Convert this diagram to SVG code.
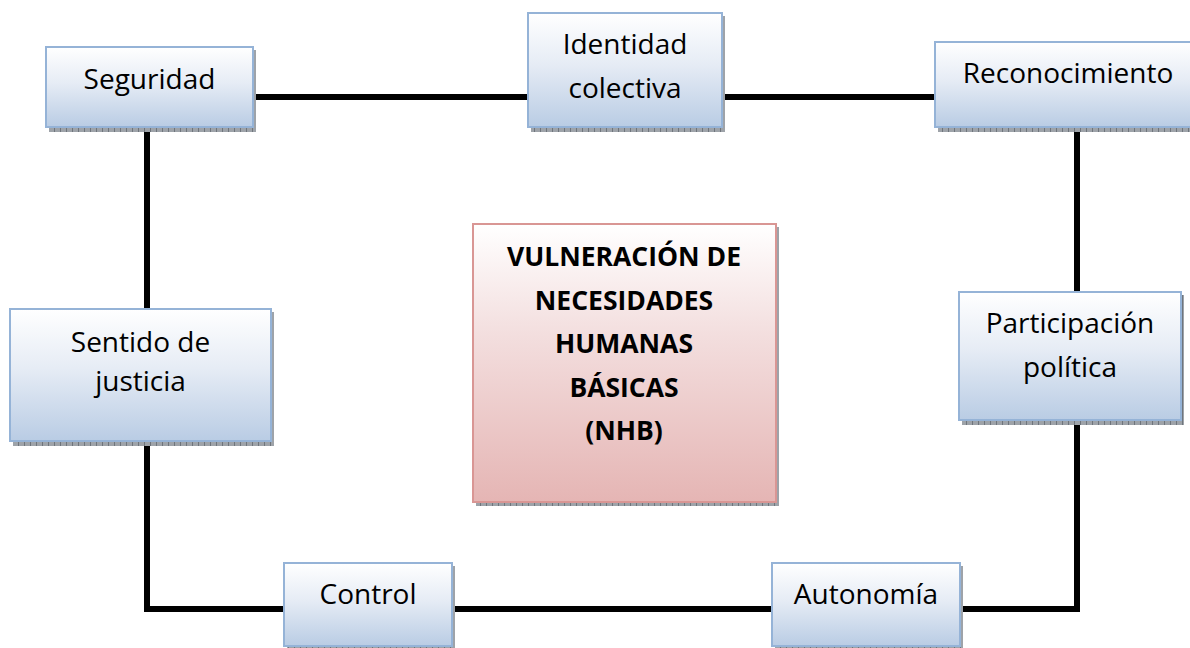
<svg xmlns="http://www.w3.org/2000/svg" width="1190" height="648" viewBox="0 0 1190 648">
<defs>
<linearGradient id="gBlue" x1="0" y1="0" x2="0" y2="1">
<stop offset="0" stop-color="#ffffff"/>
<stop offset="0.45" stop-color="#e6ecf5"/>
<stop offset="1" stop-color="#b9cce4"/>
</linearGradient>
<linearGradient id="gPink" x1="0" y1="0" x2="0" y2="1">
<stop offset="0" stop-color="#ffffff"/>
<stop offset="0.4" stop-color="#f3dede"/>
<stop offset="1" stop-color="#e5b5b4"/>
</linearGradient>
<pattern id="hatch" width="6" height="6" patternUnits="userSpaceOnUse">
<rect width="6" height="6" fill="#9ea3a9"/>
<rect x="0" y="0" width="1" height="6" fill="#6f757c"/>
</pattern>
</defs>
<style>
.box{fill:url(#gBlue);stroke:#95b3d7;stroke-width:2}
.pbox{fill:url(#gPink);stroke:#d99694;stroke-width:2}
.sh{fill:url(#hatch)}
.t{font-family:"Open Sans","Liberation Sans",sans-serif;font-size:28px;fill:#000;text-anchor:middle}
.tb{font-family:"Open Sans","Liberation Sans",sans-serif;font-size:26.5px;font-weight:bold;fill:#000;text-anchor:middle}
.ln{fill:none;stroke:#000;stroke-width:6;stroke-linejoin:miter}
</style>
<g id="connectors">
<line class="ln" x1="253" y1="97" x2="528" y2="97"/>
<line class="ln" x1="722" y1="97" x2="935" y2="97"/>
<line class="ln" x1="147" y1="127" x2="147" y2="309"/>
<line class="ln" x1="1077" y1="127" x2="1077" y2="292"/>
<polyline class="ln" points="147,441 147,609 284,609"/>
<line class="ln" x1="452" y1="609" x2="772" y2="609"/>
<polyline class="ln" points="960,609 1077,609 1077,420"/>
</g>
<g id="seguridad">
<rect class="sh" x="49" y="50" width="207" height="82"/>
<rect class="box" x="46" y="47" width="207" height="80"/>
<text class="t" x="149.5" y="89">Seguridad</text>
</g>
<g id="identidad">
<rect class="sh" x="531" y="16" width="194" height="116"/>
<rect class="box" x="528" y="13" width="194" height="114"/>
<text class="t" x="625" y="54">Identidad</text>
<text class="t" x="625" y="98">colectiva</text>
</g>
<g id="reconocimiento">
<rect class="sh" x="938" y="45" width="265" height="87"/>
<rect class="box" x="935" y="42" width="265" height="85"/>
<text class="t" x="1068" y="83">Reconocimiento</text>
</g>
<g id="sentido">
<rect class="sh" x="13" y="312" width="261" height="134"/>
<rect class="box" x="10" y="309" width="261" height="132"/>
<text class="t" x="140.5" y="352">Sentido de</text>
<text class="t" x="140.5" y="391">justicia</text>
</g>
<g id="participacion">
<rect class="sh" x="962" y="295" width="222" height="130"/>
<rect class="box" x="959" y="292" width="222" height="128"/>
<text class="t" x="1070" y="333">Participación</text>
<text class="t" x="1070" y="377">política</text>
</g>
<g id="control">
<rect class="sh" x="287" y="566" width="168" height="85"/>
<rect class="box" x="284" y="563" width="168" height="83"/>
<text class="t" x="368" y="604">Control</text>
</g>
<g id="autonomia">
<rect class="sh" x="775" y="566" width="188" height="85"/>
<rect class="box" x="772" y="563" width="188" height="83"/>
<text class="t" x="866" y="604">Autonomía</text>
</g>
<g id="nhb">
<rect class="sh" x="476" y="227" width="303" height="279"/>
<rect class="pbox" x="473" y="224" width="303" height="278"/>
<text class="tb" x="624" y="266">VULNERACIÓN DE</text>
<text class="tb" x="624" y="310">NECESIDADES</text>
<text class="tb" x="624" y="353">HUMANAS</text>
<text class="tb" x="624" y="397">BÁSICAS</text>
<text class="tb" x="624" y="440">(NHB)</text>
</g>
</svg>
